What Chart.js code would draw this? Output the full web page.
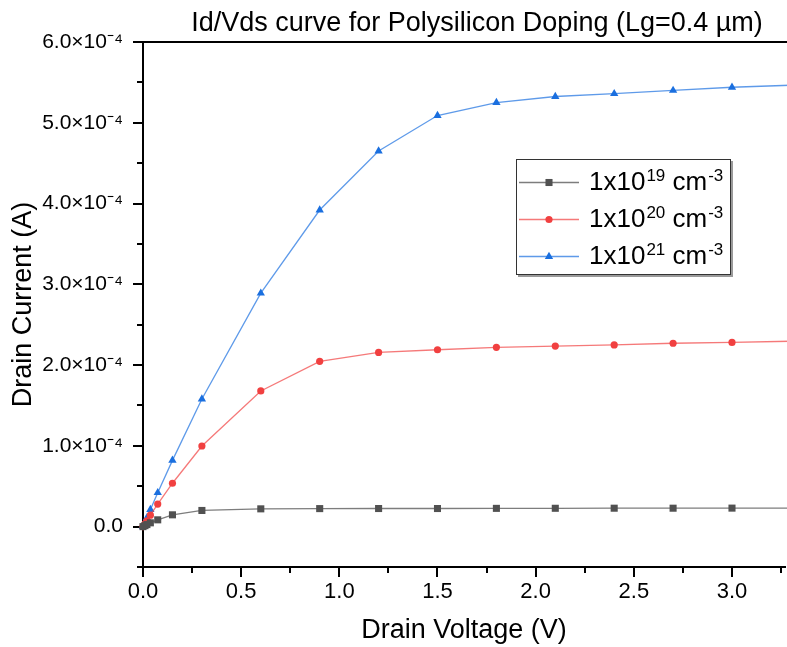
<!DOCTYPE html>
<html><head><meta charset="utf-8">
<script src="https://cdn.jsdelivr.net/npm/chart.js@4/dist/chart.umd.min.js"></script>
<style>
html,body{margin:0;padding:0;overflow:hidden;background:#fff;width:787px;height:647px}
#wrap{position:relative;width:790px;height:647px}
canvas{display:block}
</style>
</head><body><div id="wrap"><canvas id="c" width="790" height="647"></canvas></div>
<script>
// ---- data (Drain voltage in V, drain current in A) ----
const vds = [0, 0.01, 0.02, 0.0375, 0.075, 0.15, 0.3, 0.6, 0.9, 1.2, 1.5, 1.8, 2.1, 2.4, 2.7, 3.0, 3.3];
const id1e19 = [0, 0.012e-4, 0.025e-4, 0.047e-4, 0.084e-4, 0.146e-4, 0.200e-4, 0.220e-4, 0.223e-4, 0.224e-4, 0.224e-4, 0.226e-4, 0.227e-4, 0.228e-4, 0.228e-4, 0.229e-4, 0.229e-4];
const id1e20 = [0, 0.035e-4, 0.07e-4, 0.142e-4, 0.279e-4, 0.537e-4, 0.998e-4, 1.68e-4, 2.046e-4, 2.157e-4, 2.19e-4, 2.22e-4, 2.235e-4, 2.25e-4, 2.27e-4, 2.28e-4, 2.295e-4];
const id1e21 = [0, 0.05e-4, 0.11e-4, 0.21e-4, 0.42e-4, 0.82e-4, 1.58e-4, 2.89e-4, 3.92e-4, 4.65e-4, 5.09e-4, 5.25e-4, 5.325e-4, 5.36e-4, 5.40e-4, 5.44e-4, 5.465e-4];
const dopingBase = ['1x10', '1x10', '1x10'];
const dopingExp = ['19', '20', '21'];
const unitBase = ' cm';
const unitExp = '-3';
const titleText = 'Id/Vds curve for Polysilicon Doping (Lg=0.4 \u00b5m)';
const xTitle = 'Drain Voltage (V)';
const yTitle = 'Drain Current (A)';
const yExpLabel = '\u00d710\u207b\u2074';   // ×10⁻⁴

const FONT = '"Liberation Sans", Arial, Helvetica, sans-serif';
const COLORS = ['#515151', '#F14040', '#1A6FDF'];
const LINECOLORS = ['rgba(81,81,81,0.75)', 'rgba(241,64,64,0.7)', 'rgba(26,111,223,0.7)'];
const STYLES = ['rect', 'circle', 'triangle'];
const RADII = [5, 3.6, 4.8];
const series = [id1e19, id1e20, id1e21];

function pts(ys){ return vds.map((v,i)=>({x:v, y:ys[i]})); }

function drawMarker(ctx, style, r, x, y, color){
  ctx.fillStyle = color;
  ctx.beginPath();
  if (style === 'rect') { const s = Math.SQRT1_2 * r; ctx.rect(x - s, y - s, 2*s, 2*s); }
  else if (style === 'circle') { ctx.arc(x, y, r, 0, Math.PI*2); }
  else { ctx.moveTo(x, y - r); ctx.lineTo(x + r*Math.sin(Math.PI/3), y + r/2); ctx.lineTo(x - r*Math.sin(Math.PI/3), y + r/2); ctx.closePath(); }
  ctx.fill();
}

const extras = {
  id: 'extras',
  afterDraw(chart){
    const ctx = chart.ctx, xs = chart.scales.x, ys = chart.scales.y, a = chart.chartArea;
    ctx.save();
    ctx.strokeStyle = '#000'; ctx.lineWidth = 2;
    // top frame line
    ctx.beginPath(); ctx.moveTo(a.left - 1, a.top); ctx.lineTo(a.right + 5, a.top); ctx.stroke();
    // minor ticks
    ctx.beginPath();
    const xs0 = xs.ticks.length > 1 ? xs.ticks[1].value - xs.ticks[0].value : 0.5;
    for (let v = xs.ticks[0].value + xs0/2; v <= xs.max; v += xs0) {
      const px = Math.round(xs.getPixelForValue(v));
      ctx.moveTo(px, a.bottom); ctx.lineTo(px, a.bottom + 6);
    }
    const ys0 = ys.ticks[1].value - ys.ticks[0].value;
    for (let v = ys.ticks[0].value - ys0/2; v <= ys.max; v += ys0) {
      if (v < ys.min - 1e-12) continue;
      const py = Math.round(ys.getPixelForValue(v));
      ctx.moveTo(a.left, py); ctx.lineTo(a.left - 6, py);
    }
    ctx.stroke();

    // legend box
    const lx = 516, ly = 159, lw = 215, lh = 116;
    ctx.fillStyle = '#9a9a9a'; ctx.fillRect(lx + 2, ly + 2, lw, lh);
    ctx.fillStyle = '#fff'; ctx.fillRect(lx, ly, lw, lh);
    ctx.strokeStyle = '#333'; ctx.lineWidth = 1; ctx.strokeRect(lx + 0.5, ly + 0.5, lw - 1, lh - 1);
    for (let i = 0; i < 3; i++) {
      const cy = ly + 23.5 + i*37;
      ctx.strokeStyle = LINECOLORS[i]; ctx.lineWidth = 1.5;
      ctx.beginPath(); ctx.moveTo(lx + 3, cy); ctx.lineTo(lx + 63, cy); ctx.stroke();
      drawMarker(ctx, STYLES[i], RADII[i], lx + 33, cy, COLORS[i]);
      ctx.fillStyle = '#000'; ctx.textAlign = 'left'; ctx.textBaseline = 'alphabetic';
      let tx = lx + 73; const base = cy + 7.5;
      ctx.font = '26px ' + FONT; ctx.fillText(dopingBase[i], tx, base); tx += ctx.measureText(dopingBase[i]).width + 1;
      ctx.font = '17px ' + FONT; ctx.fillText(dopingExp[i], tx, base - 9); tx += ctx.measureText(dopingExp[i]).width;
      ctx.font = '26px ' + FONT; ctx.fillText(unitBase, tx, base); tx += ctx.measureText(unitBase).width + 1;
      ctx.font = '17px ' + FONT; ctx.fillText(unitExp, tx, base - 9);
    }

    // title
    ctx.fillStyle = '#000'; ctx.font = '27px ' + FONT; ctx.textAlign = 'center'; ctx.textBaseline = 'alphabetic';
    ctx.fillText(titleText, 477, 31);
    ctx.restore();
  }
};

const datasets = series.map((s, i) => ({
  data: pts(s),
  borderColor: LINECOLORS[i],
  backgroundColor: COLORS[i],
  pointBackgroundColor: COLORS[i],
  pointBorderColor: COLORS[i],
  pointBorderWidth: 0,
  pointStyle: STYLES[i],
  pointRadius: RADII[i],
  borderWidth: 1.3,
  tension: 0,
  clip: false
}));

new Chart(document.getElementById('c'), {
  type: 'line',
  data: { datasets },
  plugins: [extras],
  options: {
    responsive: false,
    animation: false,
    devicePixelRatio: 1,
    layout: { padding: { top: 42, right: 0, bottom: 0, left: 0 } },
    plugins: { legend: { display: false }, tooltip: { enabled: false }, title: { display: false } },
    scales: {
      x: {
        type: 'linear', min: 0, max: 3.27,
        afterFit(s){ s.height = 80; },
        ticks: { stepSize: 0.5, includeBounds: false, color: '#000', padding: 2, maxRotation: 0,
                 font: { family: FONT, size: 22 }, callback: v => v.toFixed(1) },
        grid: { drawOnChartArea: false, drawTicks: true, tickLength: 10, color: '#000', lineWidth: 2 },
        border: { display: true, color: '#000', width: 2 },
        title: { display: true, text: xTitle, color: '#000', font: { family: FONT, size: 27 }, padding: { top: 0, bottom: 0 } }
      },
      y: {
        type: 'linear', min: -0.5e-4, max: 6.0e-4,
        afterFit(s){ s.width = 143; },
        ticks: { stepSize: 1e-4, includeBounds: false, color: '#000', padding: 10,
                 font: { family: FONT, size: 21 },
                 callback: v => (Math.abs(v) < 1e-12 ? '0.0' : (v / 1e-4).toFixed(1) + yExpLabel) },
        grid: { drawOnChartArea: false, drawTicks: true, tickLength: 10, color: '#000', lineWidth: 2 },
        border: { display: true, color: '#000', width: 2 },
        title: { display: true, text: yTitle, color: '#000', font: { family: FONT, size: 27 }, padding: { top: 7, bottom: 0 } }
      }
    }
  }
});
</script>
</body></html>
